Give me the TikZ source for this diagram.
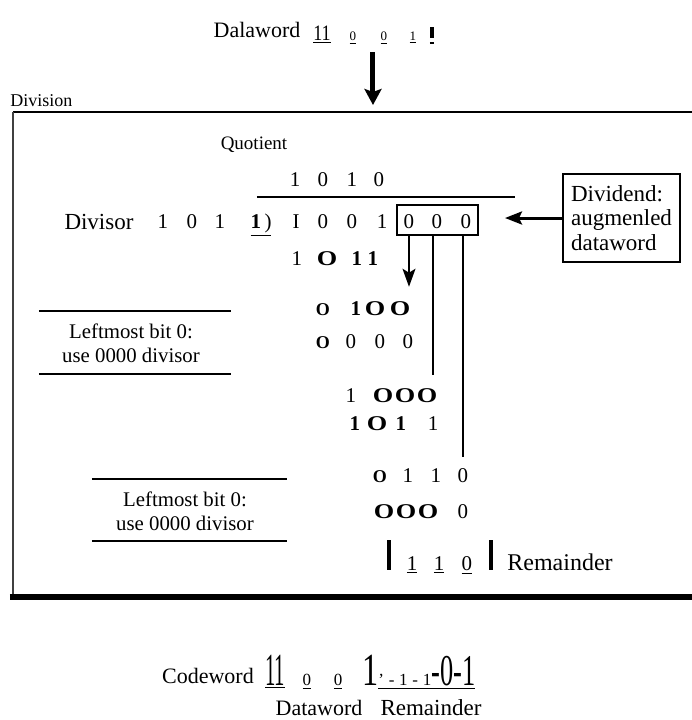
\documentclass[tikz,border=0pt]{standalone}
\usepackage{fontspec}
\setmainfont{Liberation Serif}
\usetikzlibrary{arrows.meta, positioning}

\newcommand{\fs}[1]{\fontsize{#1}{#1}\selectfont}
\newcommand{\bO}{{\bfseries\scalebox{1.25}[1]{O}}}
\newcommand{\sO}{{\fs{9}\bfseries O}}
\newcommand{\bI}{\textbf{1}}

\tikzset{
  lbl/.style={anchor=base, inner sep=1pt},
  bit/.style={anchor=base, inner sep=1pt, font=\fs{10.5}},
  tinybit/.style={anchor=base, inner sep=1pt, font=\fs{6.5}},
  notetext/.style={align=center, inner sep=1pt, font=\fontsize{10.4}{12}\selectfont},
  bigarrow/.style={-{Stealth[length=8pt, width=8.5pt, inset=1.5pt]}, line width=2.5pt},
  midarrow/.style={-{Stealth[length=8.5pt, width=6.5pt, inset=1.5pt]}, line width=1.5pt},
  thinarrow/.style={-{Stealth[length=9pt, width=6.5pt, inset=2pt]}, line width=0.6pt},
  carry/.style={line width=0.7pt},
  bar/.style={line width=1.7pt},
}

\begin{document}
\begin{tikzpicture}[x=0.5pt, y=-0.5pt]
\useasboundingbox (0,0) rectangle (692,720);

% dataword on top
\node (dwlabel) [lbl, font=\fs{11}] at (257,37) {Dalaword};
\node (dw1) [lbl, font=\fs{10}] at (322,40) {\underline{\scalebox{0.9}[1.1]{11}}};
\foreach \x/\val [count=\i] in {353/0, 384/0, 413/1}
  \node (dws\i) [tinybit] at (\x,40) {\underline{\val}};
\draw[bar] (432,27) -- (432,38);
\draw[line width=0.6pt] (430,43) -- (434,43);

\coordinate (dwout) at (373,52);
\coordinate (divin) at (373,105);
\draw[bigarrow] (dwout) -- (divin);

% division frame
\node (divlabel) [anchor=base west, inner sep=0pt, font=\fs{9}] at (10,106) {Division};
\draw[line width=0.6pt] (13,112) -- (692,112);
\draw[line width=0.8pt, black!75] (13,112) -- (13,599);
\draw[line width=3pt] (10,597) -- (692,597);

% quotient
\node (quot) [lbl, font=\fs{9.5}] at (254,149) {Quotient};
\foreach \x/\val [count=\i] in {295/1, 323/0, 352/1, 379/0}
  \node (q\i) [bit] at (\x,186) {\val};
\draw[line width=0.8pt] (257,197) -- (515,197);

% divisor and dividend
\node (divisor) [lbl, font=\fs{11.5}] at (99,229) {Divisor};
\foreach \x/\val [count=\i] in {163/1, 192/0, 220/1}
  \node (dv\i) [bit] at (\x,228) {\val};
\node (dv4) [bit] at (261,228) {\underline{\textbf{1}\,)}};
\foreach \x/\val [count=\i] in {296/I, 323/0, 352/0, 382/1, 409/0, 437/0, 466/0}
  \node (dd\i) [bit] at (\x,228) {\val};
\node (augbox) [draw, line width=0.6pt, minimum width=40.5pt, minimum height=15pt, inner sep=0pt] at (437.5,220) {};

% steps
\foreach \x/\val [count=\i] in {297/1, 327/\bO, 357/\bI, 373/\bI}
  \node (ra\i) [bit] at (\x,265) {\val};
\foreach \x/\val [count=\i] in {323/\sO, 356/\bI, 375/\bO, 400/\bO}
  \node (rb\i) [bit] at (\x,315) {\val};
\foreach \x/\val [count=\i] in {323/\sO, 351/0, 380/0, 408/0}
  \node (rc\i) [bit] at (\x,348) {\val};
\foreach \x/\val [count=\i] in {351/1, 383/\bO, 405/\bO, 427/\bO}
  \node (rd\i) [bit] at (\x,402) {\val};
\foreach \x/\val [count=\i] in {355/\bI, 377/\bO, 401/\bI, 433/1}
  \node (re\i) [bit] at (\x,430) {\val};
\foreach \x/\val [count=\i] in {380/\sO, 408/1, 436/1, 463/0}
  \node (rf\i) [bit] at (\x,482) {\val};
\foreach \x/\val [count=\i] in {384/\bO, 406/\bO, 428/\bO, 463/0}
  \node (rg\i) [bit] at (\x,518) {\val};

% remainder
\foreach \x/\val [count=\i] in {412/1, 439/1, 467/0}
  \node (rh\i) [bit] at (\x,570) {\underline{\val}};
\draw[line width=2.2pt] (389,540) -- (389,570);
\draw[line width=2.2pt] (491,540) -- (491,570);
\node (remlabel) [anchor=base west, inner sep=1pt, font=\fs{12}] at (505,570) {Remainder};

% bring-down lines
\coordinate (col6) at (433,0);
\coordinate (col7) at (463,0);
\draw[thinarrow, shorten >=6pt] (augbox.south -| dd5) -- (dd5 |- rb4.north);
\draw[carry, shorten >=5.5pt] (augbox.south -| col6) -- (col6 |- rd4.north);
\draw[carry, shorten >=4.5pt] (augbox.south -| col7) -- (col7 |- rf4.north);

% dividend note
\node (dividend) [draw, line width=0.6pt, minimum width=58.5pt, minimum height=44pt, align=left, font=\fontsize{11.5}{12.3}\selectfont] at (621.5,218) {Dividend:\\augmenled\\dataword};
\coordinate (augin) at (505,218);
\draw[midarrow] (dividend.west) -- (augin);

% notes on the left
\node (note1) [notetext] at (131,343) {Leftmost bit 0:\\use 0000 divisor};
\draw[line width=0.7pt] (39,311) -- (231,311);
\draw[line width=0.6pt] (39,374) -- (231,374);
\node (note2) [notetext] at (185,511) {Leftmost bit 0:\\use 0000 divisor};
\draw[line width=0.7pt] (92,479) -- (287,479);
\draw[line width=0.6pt] (92,541) -- (287,541);

% codeword at the bottom
\node (cwlabel) [lbl, font=\fs{11}] at (208,683) {Codeword};
\node (cw1) [lbl] at (275,685) {\underline{\scalebox{0.45}[1]{\fs{23}11}}};
\foreach \x/\val [count=\i] in {307/0, 338/0}
  \node (cws\i) [lbl, font=\fs{8.5}] at (\x,685) {\underline{\val}};
\node (cwbig) [lbl] at (371,685) {\scalebox{0.7}[1]{\fs{23}1}};
\node (cwrem) [anchor=base west, inner sep=0pt] at (378,685) {\underline{\fs{8.5}'\;-\;1\;-\;1\scalebox{0.6}[1]{\fs{22}-0-1}}};
\node (cwdata) [lbl, font=\fs{11}] at (319,715) {Dataword};
\node (cwremlbl) [lbl, font=\fs{11.5}] at (431,715) {Remainder};
\end{tikzpicture}
\end{document}
